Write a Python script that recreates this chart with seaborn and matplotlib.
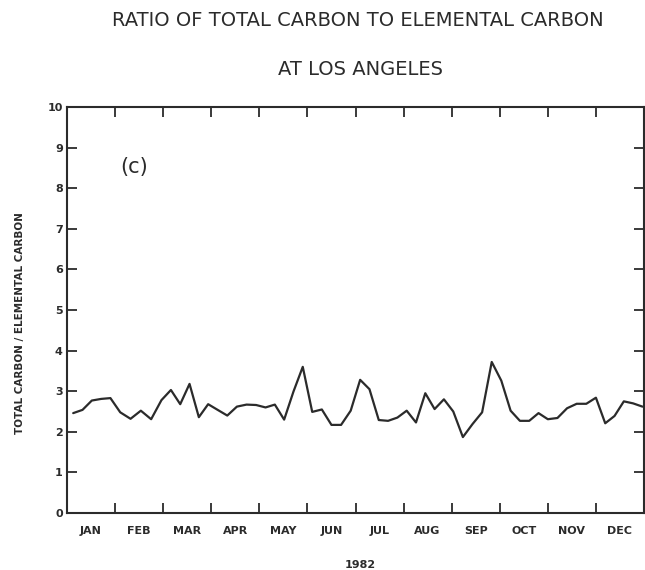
import numpy as np
import pandas as pd
import matplotlib
matplotlib.use("Agg")
import matplotlib.pyplot as plt
import seaborn as sns

# ---- data -------------------------------------------------------------
sample_start = "1982-01-05"          # every-sixth-day sampling schedule
n_samples = 61
ratio = [2.46, 2.54, 2.77, 2.81, 2.83, 2.48, 2.32, 2.52, 2.31, 2.78,
         3.03, 2.68, 3.18, 2.36, 2.68, 2.54, 2.40, 2.62, 2.67, 2.66,
         2.60, 2.67, 2.30, 2.99, 3.60, 2.49, 2.55, 2.17, 2.17, 2.52,
         3.28, 3.05, 2.29, 2.27, 2.35, 2.52, 2.23, 2.95, 2.56, 2.80,
         2.50, 1.87, 2.19, 2.48, 3.72, 3.26, 2.52, 2.27, 2.27, 2.46,
         2.31, 2.34, 2.58, 2.69, 2.69, 2.84, 2.21, 2.39, 2.75, 2.70,
         2.62]
month_labels = ["JAN", "FEB", "MAR", "APR", "MAY", "JUN",
                "JUL", "AUG", "SEP", "OCT", "NOV", "DEC"]
y_ticks = [0, 1, 2, 3, 4, 5, 6, 7, 8, 9, 10]
title1 = "RATIO OF TOTAL CARBON TO ELEMENTAL CARBON"
title2 = "AT LOS ANGELES"
ylabel = "TOTAL CARBON / ELEMENTAL CARBON"
xlabel = "1982"
panel = "(c)"

dates = pd.date_range(sample_start, periods=n_samples, freq="6D")
# position on an equal-month axis (0..12)
month_pos = (dates.month - 1) + (dates.day - 1) / dates.days_in_month
df = pd.DataFrame({"month": np.asarray(month_pos, dtype=float), "ratio": ratio})

# ---- plot ---------------------------------------------------------------
sns.set_style("ticks")
plt.rcParams["font.family"] = ["DejaVu Sans"]
ink = "#2b2b2b"

fig = plt.figure(figsize=(6.45, 5.70), dpi=100)
ax = fig.add_axes([67 / 645, 57 / 570, 577 / 645, 406 / 570])

sns.lineplot(data=df, x="month", y="ratio", ax=ax, color=ink,
             linewidth=1.6, estimator=None, sort=False, clip_on=False)

ax.set_xlim(0, 12)
ax.set_ylim(0, 10)

# major x ticks at month boundaries, labels centred in each month
ax.set_xticks(np.arange(1, 12))
ax.set_xticklabels([])
ax.set_xticks(np.arange(12) + 0.5, minor=True)
ax.set_xticklabels(month_labels, minor=True, fontsize=8, fontweight="bold",
                   color=ink)
ax.tick_params(axis="x", which="major", direction="in", length=7, width=1.3,
               top=True, bottom=True, color=ink)
ax.tick_params(axis="x", which="minor", length=0, pad=9)

ax.set_yticks(y_ticks)
ax.set_yticklabels([str(v) for v in y_ticks], fontsize=8, fontweight="bold",
                   color=ink)
ax.tick_params(axis="y", direction="in", length=7, width=1.3, left=True,
               right=True, pad=3, color=ink)

for s in ax.spines.values():
    s.set_visible(True)
    s.set_linewidth(1.5)
    s.set_color(ink)

ax.set_ylabel(ylabel, fontsize=7.5, fontweight="bold", color=ink)
ax.yaxis.set_label_coords(-0.073, 0.468)
ax.set_xlabel(xlabel, fontsize=8, fontweight="bold", color=ink)
ax.xaxis.set_label_coords(0.508, -0.116)

ax.text(0.116, 0.852, panel, transform=ax.transAxes, fontsize=15,
        color=ink, ha="center", va="center")

fig.text(358 / 645, 1 - 21 / 570, title1, fontsize=14, color=ink,
         ha="center", va="center")
fig.text(360 / 645, 1 - 70 / 570, title2, fontsize=14, color=ink,
         ha="center", va="center")

fig.savefig("out.png", dpi=100, facecolor="white")
